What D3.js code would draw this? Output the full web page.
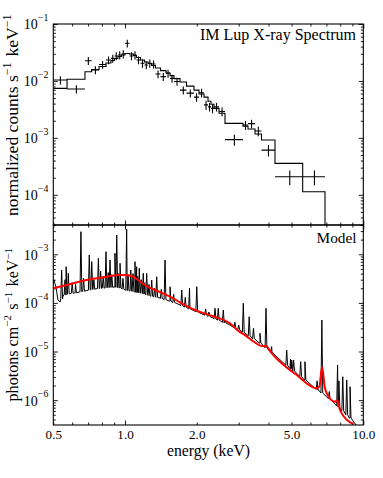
<!DOCTYPE html>
<html><head><meta charset="utf-8">
<script src="https://cdn.jsdelivr.net/npm/d3@7"></script>
<style>
body{margin:0;background:#fff;}
svg{display:block;}
text{font-family:"Liberation Serif","Times New Roman",serif;fill:#000;}
</style></head><body>
<svg id="chart" width="383" height="478"></svg>
<script>
// ---------- DATA ----------
// top panel: spectral bins (keV edges), observed normalized counts, errors, folded model
const binEdges = [0.5, 0.571, 0.679, 0.724, 0.778, 0.832, 0.873, 0.903, 0.934, 0.966, 1.0, 1.044, 1.085, 1.117, 1.161, 1.207, 1.249, 1.292, 1.342, 1.409, 1.486, 1.545, 1.605, 1.701, 1.811, 1.947, 2.044, 2.146, 2.23, 2.295, 2.363, 2.48, 2.628, 3.127, 3.282, 3.512, 3.739, 4.26, 5.567, 6.907];
const countsData = [0.0104, 0.0072, 0.0226, 0.0156, 0.0194, 0.0233, 0.0249, 0.0274, 0.0285, 0.0297, 0.0458, 0.0274, 0.0285, 0.0233, 0.0204, 0.0190, 0.0204, 0.0198, 0.0132, 0.0119, 0.0136, 0.0111, 0.0098, 0.0069, 0.0061, 0.0052, 0.0062, 0.0038, 0.0035, 0.0033, 0.0035, 0.0029, 0.00093, 0.00168, 0.00178, 0.00132, 0.00061, 0.000207, 0.000207];
const countsErr = [0.0017, 0.0012, 0.0036, 0.0025, 0.0031, 0.0037, 0.0040, 0.0044, 0.0046, 0.0048, 0.0070, 0.0044, 0.0046, 0.0037, 0.0033, 0.0030, 0.0033, 0.0032, 0.0021, 0.0019, 0.0022, 0.0018, 0.0016, 0.0011, 0.0010, 0.0009, 0.0011, 0.0007, 0.0006, 0.0006, 0.0006, 0.0005, 0.0002, 0.0003, 0.0003, 0.00025, 0.00014, 0.00006, 0.00006];
const countsModel = [0.0074, 0.0107, 0.0145, 0.0159, 0.0179, 0.0206, 0.0228, 0.0248, 0.0268, 0.0285, 0.0303, 0.0297, 0.0279, 0.0258, 0.0233, 0.0215, 0.0202, 0.0187, 0.0169, 0.0152, 0.0138, 0.0124, 0.0110, 0.0096, 0.0081, 0.0069, 0.0059, 0.0052, 0.0044, 0.0039, 0.0033, 0.0027, 0.0018, 0.00161, 0.00143, 0.00117, 0.000915, 0.000357, 0.000113];

// bottom panel: model spectrum continuum (black), emission lines, smoothed model (red)
const contE = [0.5, 0.513, 0.523, 0.534, 0.549, 0.571, 0.617, 0.679, 0.748, 0.824, 0.907, 0.953, 1.0, 1.05, 1.101, 1.156, 1.213, 1.273, 1.402, 1.545, 1.701, 1.873, 2.064, 2.34, 2.757, 3.188, 3.685, 4.26, 4.925, 5.69, 6.45, 7.25, 7.984, 8.8, 9.32];
const contF = [2.69e-4, 2.12e-4, 1.15e-4, 1.04e-4, 1.39e-4, 1.52e-4, 1.6e-4, 1.76e-4, 1.93e-4, 2.03e-4, 2.12e-4, 2.03e-4, 1.84e-4, 1.76e-4, 1.68e-4, 1.6e-4, 1.52e-4, 1.39e-4, 1.26e-4, 1.09e-4, 9.06e-5, 7.49e-5, 6.19e-5, 4.89e-5, 3.51e-5, 2.4e-5, 1.5e-5, 8.47e-6, 4.57e-6, 2.6e-6, 1.61e-6, 1.05e-6, 6.87e-7, 4.29e-7, 3.08e-7];
const lineE = [0.503, 0.542, 0.56, 0.566, 0.578, 0.6, 0.62, 0.653, 0.67, 0.708, 0.725, 0.74, 0.773, 0.79, 0.81, 0.832, 0.85, 0.865, 0.88, 0.907, 0.923, 0.94, 0.953, 0.98, 1.016, 1.03, 1.057, 1.08, 1.101, 1.119, 1.13, 1.148, 1.17, 1.193, 1.21, 1.233, 1.26, 1.294, 1.33, 1.358, 1.42, 1.472, 1.545, 1.6, 1.73, 1.79, 1.865, 2.0, 2.18, 2.25, 2.386, 2.462, 2.585, 2.63, 2.89, 3.0, 3.136, 3.32, 3.46, 3.685, 3.905, 4.1, 4.127, 4.77, 4.95, 5.007, 5.1, 5.46, 5.69, 6.4, 6.70, 7.2, 7.8, 7.9, 8.2, 8.52, 8.8];
const lineF = [2.96e-4, 4.75e-4, 3.0e-4, 5.56e-4, 4.06e-4, 2.6e-4, 2.4e-4, 2.92e-3, 3.2e-4, 9.67e-4, 7.05e-4, 3.0e-4, 8.28e-4, 4.5e-4, 3.5e-4, 1.13e-3, 4.2e-4, 7.63e-4, 3.8e-4, 1.05e-3, 2.49e-3, 4.0e-4, 6.53e-4, 3.2e-4, 3.27e-3, 3.8e-4, 4.75e-4, 4.0e-4, 7.05e-4, 5.56e-4, 3.5e-4, 5.15e-4, 3.0e-4, 4.06e-4, 2.6e-4, 4.06e-4, 2.4e-4, 2.96e-4, 2.0e-4, 3.46e-4, 1.9e-4, 7.63e-4, 2.15e-4, 1.5e-4, 1.84e-4, 1.3e-4, 2.0e-4, 2.15e-4, 7.5e-5, 6.5e-5, 7.74e-5, 7.74e-5, 7.14e-5, 4.45e-5, 4.0e-5, 3.5e-5, 9.8e-5, 5.2e-5, 3.0e-5, 2.37e-5, 7.74e-5, 1.1e-5, 1.26e-5, 1.07e-5, 7e-6, 6.68e-6, 6.68e-6, 6.17e-6, 6.17e-6, 2.5e-6, 4.45e-5, 1.5e-6, 5.27e-6, 2.5e-6, 3.03e-6, 2.6e-6, 1.89e-6];
const redE = [0.5, 0.569, 0.69, 0.838, 0.953, 1.032, 1.08, 1.119, 1.18, 1.233, 1.3, 1.358, 1.45, 1.595, 1.701, 1.815, 2.0, 2.347, 2.757, 3.037, 3.136, 3.241, 3.5, 3.747, 3.905, 4.0, 4.127, 4.472, 5.255, 6.377, 6.537, 6.711, 6.886, 7.02, 7.609, 7.78, 7.984, 9.08];
const redF = [2.0e-4, 2.33e-4, 2.96e-4, 3.46e-4, 3.75e-4, 3.72e-4, 3.45e-4, 3.1e-4, 2.55e-4, 2.2e-4, 1.95e-4, 1.78e-4, 1.55e-4, 1.24e-4, 1.02e-4, 8.6e-5, 6.9e-5, 5.3e-5, 3.8e-5, 2.5e-5, 2.3e-5, 2.05e-5, 1.55e-5, 1.3e-5, 1.3e-5, 1.15e-5, 9.2e-6, 6.17e-6, 3.28e-6, 1.75e-6, 1.89e-6, 4.87e-6, 1.89e-6, 1.38e-6, 9.27e-7, 1.0e-6, 6.25e-7, 3.22e-7];

const xTickLabels = ["0.5", "1.0", "2.0", "5.0", "10.0"];
const xTickValues = [0.5, 1, 2, 5, 10];
const titleTop = "IM Lup X-ray Spectrum";
const titleBottom = "Model";

// ---------- LAYOUT ----------
const L = 53.3, R = 363.3, T1 = 24, M = 225, B2 = 425;
const svg = d3.select("#chart");
const x = d3.scaleLog().domain([0.5, 10]).range([L, R]);
const yTop = d3.scaleLog().domain([2.95e-5, 0.1]).range([M, T1]);
const yBot = d3.scaleLog().domain([3.08e-7, 4.0e-3]).range([B2, M]);

// scale a text's font-size so its rendered width equals target
function fitWidth(sel, target) {
  const w = sel.node().getComputedTextLength();
  const fs = parseFloat(sel.attr("font-size"));
  if (w > 0) sel.attr("font-size", fs * target / w);
  return fs * target / w;
}

const defs = svg.append("defs");
defs.append("clipPath").attr("id", "c1").append("rect").attr("x", L).attr("y", T1).attr("width", R - L).attr("height", M - T1);
defs.append("clipPath").attr("id", "c2").append("rect").attr("x", L).attr("y", M).attr("width", R - L).attr("height", B2 - M);

function logTicks(scale) {
  const [a, b] = scale.domain();
  const maj = [], min = [];
  for (let d = Math.floor(Math.log10(a)); d <= Math.ceil(Math.log10(b)); d++) {
    for (let k = 1; k <= 9; k++) {
      const v = k * Math.pow(10, d);
      if (v >= a * 0.9999 && v <= b * 1.0001) (k === 1 ? maj : min).push(v);
    }
  }
  return { maj, min };
}
const MAJ = 4.5, MIN = 2.5;

function addAxis(axisFn, scale, pos, values, size) {
  const g = svg.append("g").attr("transform", pos).call(axisFn(scale).tickValues(values).tickSize(-size).tickFormat(() => ""));
  g.select(".domain").remove();
  g.selectAll(".tick line").attr("stroke", "#000").attr("stroke-width", 0.9);
  return g;
}
const xt = logTicks(x);
const yLabelTexts = [];
[yTop, yBot].forEach(ys => {
  const t = logTicks(ys);
  addAxis(d3.axisLeft, ys, `translate(${L},0)`, t.maj, MAJ);
  addAxis(d3.axisLeft, ys, `translate(${L},0)`, t.min, MIN);
  addAxis(d3.axisRight, ys, `translate(${R},0)`, t.maj, MAJ);
  addAxis(d3.axisRight, ys, `translate(${R},0)`, t.min, MIN);
  const lg = svg.append("g").attr("transform", `translate(${L},0)`).call(d3.axisLeft(ys).tickValues(t.maj).tickSize(0).tickPadding(5).tickFormat(() => ""));
  lg.select(".domain").remove();
  lg.selectAll(".tick").each(function (d) {
    const tx = d3.select(this).select("text").attr("font-size", 13).attr("dy", "0.35em").attr("font-family", "Liberation Serif");
    tx.append("tspan").text("10");
    tx.append("tspan").attr("font-size", "0.7em").attr("dy", "-0.85em").text("\u2212" + Math.round(-Math.log10(d)));
    yLabelTexts.push(tx);
  });
});
// ref "10^-n" labels are ~24.5px wide
const yfs = fitWidth(yLabelTexts[0], 24.5);
yLabelTexts.forEach(t => t.attr("font-size", yfs));

addAxis(d3.axisTop, x, `translate(0,${T1})`, xt.maj, MAJ);
addAxis(d3.axisTop, x, `translate(0,${T1})`, xt.min, MIN);
addAxis(d3.axisBottom, x, `translate(0,${M})`, xt.maj, MAJ);
addAxis(d3.axisBottom, x, `translate(0,${M})`, xt.min, MIN);
addAxis(d3.axisTop, x, `translate(0,${M})`, xt.maj, MAJ);
addAxis(d3.axisTop, x, `translate(0,${M})`, xt.min, MIN);
addAxis(d3.axisBottom, x, `translate(0,${B2})`, xt.maj, MAJ);
addAxis(d3.axisBottom, x, `translate(0,${B2})`, xt.min, MIN);
const xl = svg.append("g").attr("transform", `translate(0,${B2})`)
  .call(d3.axisBottom(x).tickValues(xTickValues).tickSize(0).tickPadding(5).tickFormat((d, i) => xTickLabels[i]));
xl.select(".domain").remove();
xl.selectAll("text").attr("font-size", 13).attr("font-family", "Liberation Serif");
const xLast = d3.select(xl.selectAll("text").nodes().slice(-1)[0]);
const xfs = fitWidth(xLast, 23);
xl.selectAll("text").attr("font-size", xfs);

// ---------- TOP PANEL ----------
const g1 = svg.append("g").attr("clip-path", "url(#c1)");
let stepPts = [];
countsModel.forEach((v, i) => { stepPts.push([binEdges[i], v]); stepPts.push([binEdges[i + 1], v]); });
stepPts.push([binEdges[binEdges.length - 1], null]);
const stepLine = d3.line().x(d => x(d[0])).y(d => (d[1] === null ? M + 5 : yTop(d[1])));
g1.append("path").attr("d", stepLine(stepPts)).attr("fill", "none").attr("stroke", "#000").attr("stroke-width", 1.1);
const bins = countsData.map((v, i) => ({ lo: binEdges[i], hi: binEdges[i + 1], v, e: countsErr[i] }));
const eb = g1.append("g").attr("stroke", "#000").attr("stroke-width", 1.1);
eb.selectAll(".h").data(bins).join("line")
  .attr("x1", d => x(d.lo)).attr("x2", d => x(d.hi)).attr("y1", d => yTop(d.v)).attr("y2", d => yTop(d.v));
eb.selectAll(".v").data(bins).join("line")
  .attr("x1", d => x((d.lo + d.hi) / 2)).attr("x2", d => x((d.lo + d.hi) / 2))
  .attr("y1", d => yTop(d.v + d.e)).attr("y2", d => yTop(Math.max(d.v - d.e, 1e-9)));

// ---------- BOTTOM PANEL ----------
const g2 = svg.append("g").attr("clip-path", "url(#c2)");
function baseAt(e) {
  const i = Math.max(0, Math.min(contE.length - 2, d3.bisectRight(contE, e) - 1));
  const t = (Math.log(e) - Math.log(contE[i])) / (Math.log(contE[i + 1]) - Math.log(contE[i]));
  return Math.exp(Math.log(contF[i]) + t * (Math.log(contF[i + 1]) - Math.log(contF[i])));
}
let pts = contE.map((e, i) => ({ px: x(e), py: yBot(contF[i]) }));
lineE.forEach((e, i) => {
  const cx = x(e);
  const b = yBot(baseAt(e));
  pts.push({ px: cx - 0.9, py: b });
  pts.push({ px: cx, py: yBot(lineF[i]) });
  pts.push({ px: cx + 0.9, py: b });
});
pts.sort((a, b) => a.px - b.px);
g2.append("path").attr("d", d3.line().x(d => d.px).y(d => d.py)(pts))
  .attr("fill", "none").attr("stroke", "#000").attr("stroke-width", 1).attr("stroke-linejoin", "round");
g2.append("path").attr("d", d3.line().curve(d3.curveMonotoneX).x(d => x(d[0])).y(d => yBot(d[1]))(redE.map((e, i) => [e, redF[i]])))
  .attr("fill", "none").attr("stroke", "#ff0000").attr("stroke-width", 2);

// ---------- FRAMES ----------
svg.append("rect").attr("x", L).attr("y", T1).attr("width", R - L).attr("height", M - T1).attr("fill", "none").attr("stroke", "#000").attr("stroke-width", 1.1);
svg.append("rect").attr("x", L).attr("y", M).attr("width", R - L).attr("height", B2 - M).attr("fill", "none").attr("stroke", "#000").attr("stroke-width", 1.1);

// ---------- TEXT ----------
const tTop = svg.append("text").attr("x", 356).attr("y", 39.5).attr("text-anchor", "end").attr("font-size", 16).text(titleTop);
fitWidth(tTop, 156);
const tBot = svg.append("text").attr("x", 356.5).attr("y", 243).attr("text-anchor", "end").attr("font-size", 16).text(titleBottom);
fitWidth(tBot, 40);
const tx = svg.append("text").attr("x", 208.5).attr("y", 456).attr("text-anchor", "middle").attr("font-size", 16).text("energy (keV)");
fitWidth(tx, 83);

function supLabel(cx, cy, parts, target) {
  const t = svg.append("text").attr("transform", `translate(${cx},${cy}) rotate(-90)`).attr("text-anchor", "middle").attr("font-size", 16);
  parts.forEach(p => {
    if (p.sup) {
      t.append("tspan").attr("font-size", "0.68em").attr("dy", "-0.55em").text(p.t);
      t.append("tspan").attr("dy", "0.375em").text("\u200a");
    } else t.append("tspan").text(p.t);
  });
  fitWidth(t, target);
}
supLabel(17.5, 114.5, [{ t: "normalized counts s" }, { t: "\u22121", sup: true }, { t: " keV" }, { t: "\u22121", sup: true }], 203);
supLabel(17.5, 324, [{ t: "photons cm" }, { t: "\u22122", sup: true }, { t: " s" }, { t: "\u22121", sup: true }, { t: " keV" }, { t: "\u22121", sup: true }], 155);
</script>
</body></html>
